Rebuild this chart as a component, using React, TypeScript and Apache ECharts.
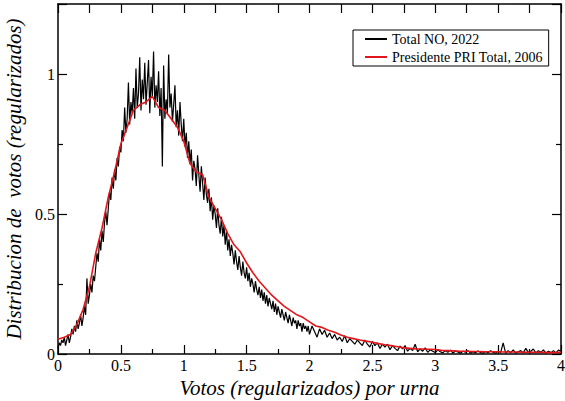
import React, { useEffect, useRef } from "react";
import * as echarts from "echarts";

// black series: 0.00 .. 1.99 sampled every 0.01
const blackStepA = 0.01;
const blackValuesA = [
  0.02, 0.04, 0.03, 0.05, 0.04, 0.06, 0.03, 0.05, 0.07, 0.04,
  0.06, 0.09, 0.07, 0.10, 0.08, 0.12, 0.09, 0.11, 0.14, 0.10,
  0.13, 0.17, 0.14, 0.27, 0.18, 0.21, 0.25, 0.22, 0.28, 0.26,
  0.31, 0.36, 0.33, 0.41, 0.37, 0.44, 0.40, 0.47, 0.51, 0.46,
  0.52, 0.58, 0.55, 0.63, 0.59, 0.66, 0.62, 0.70, 0.67, 0.74,
  0.72, 0.80, 0.76, 0.88, 0.79, 0.84, 0.97, 0.82, 0.90, 0.86,
  0.95, 0.84, 1.02, 0.88, 0.93, 1.06, 0.87, 0.98, 0.91, 1.04,
  0.89, 0.97, 1.05, 0.86, 0.99, 0.92, 1.08, 0.88, 0.96, 0.90,
  1.01, 0.85, 0.95, 0.67, 1.03, 0.84, 0.91, 0.86, 1.07, 0.88,
  0.93, 0.83, 0.89, 0.96, 0.81, 0.87, 0.78, 0.90, 0.82, 0.76,
  0.84, 0.74, 0.79, 0.70, 0.76, 0.68, 0.73, 0.62, 0.69, 0.66,
  0.60, 0.71, 0.64, 0.58, 0.67, 0.61, 0.55, 0.63, 0.57, 0.54,
  0.59, 0.51, 0.56, 0.48, 0.53, 0.50, 0.45, 0.52, 0.46, 0.43,
  0.49, 0.42, 0.46, 0.39, 0.44, 0.37, 0.41, 0.35, 0.39, 0.36,
  0.32, 0.37, 0.33, 0.30, 0.35, 0.31, 0.28, 0.33, 0.29, 0.27,
  0.31, 0.26, 0.29, 0.24, 0.27, 0.25, 0.22, 0.26, 0.23, 0.21,
  0.24, 0.20, 0.23, 0.19, 0.22, 0.18, 0.21, 0.17, 0.20, 0.18,
  0.16, 0.19, 0.15, 0.18, 0.14, 0.17, 0.15, 0.13, 0.16, 0.14,
  0.12, 0.15, 0.13, 0.11, 0.14, 0.12, 0.10, 0.13, 0.11, 0.12,
  0.09, 0.12, 0.10, 0.11, 0.08, 0.11, 0.09, 0.10, 0.08, 0.10,
];

// black series: 2.00 .. 4.00 sampled every 0.02
const blackStartB = 2.0;
const blackStepB = 0.02;
const blackValuesB = [
  0.07, 0.10, 0.08, 0.06, 0.09, 0.07, 0.085, 0.06, 0.075, 0.055,
  0.07, 0.05, 0.06, 0.045, 0.065, 0.04, 0.055, 0.045, 0.035, 0.05,
  0.04, 0.03, 0.05, 0.035, 0.025, 0.045, 0.03, 0.04, 0.02, 0.035,
  0.025, 0.035, 0.015, 0.03, 0.02, 0.012, 0.028, 0.018, 0.03, 0.01,
  0.02, 0.012, 0.035, 0.008, 0.018, 0.01, 0.022, 0.006, 0.015, 0.01,
  0.005, 0.015, 0.008, 0.004, 0.012, 0.006, 0.014, 0.004, 0.01, 0.007,
  0.003, 0.01, 0.006, 0.012, 0.003, 0.008, 0.004, 0.011, 0.005, 0.003,
  0.009, 0.004, 0.012, 0.006, 0.003, 0.01, 0.005, 0.04, 0.003, 0.012,
  0.005, 0.015, 0.003, 0.008, 0.012, 0.004, 0.02, 0.006, 0.01, 0.018,
  0.004, 0.012, 0.006, 0.015, 0.003, 0.01, 0.005, 0.012, 0.004, 0.014,
  0.01,
];

// red series: 0.00 .. 4.00 sampled every 0.05
const redStep = 0.05;
const redValues = [
  0.053, 0.06, 0.07, 0.105, 0.16, 0.24, 0.36, 0.45, 0.56, 0.65,
  0.75, 0.81, 0.87, 0.89, 0.90, 0.92, 0.88, 0.87, 0.84, 0.81,
  0.76, 0.68, 0.65, 0.64, 0.56, 0.52, 0.48, 0.43, 0.39, 0.365,
  0.325, 0.29, 0.26, 0.235, 0.21, 0.19, 0.17, 0.155, 0.14, 0.13,
  0.115, 0.10, 0.095, 0.085, 0.078, 0.068, 0.06, 0.055, 0.05, 0.046,
  0.042, 0.037, 0.033, 0.03, 0.026, 0.022, 0.02, 0.018, 0.018, 0.017,
  0.016, 0.013, 0.012, 0.011, 0.01, 0.01, 0.009, 0.009, 0.008, 0.008,
  0.008, 0.007, 0.007, 0.007, 0.006, 0.006, 0.006, 0.006, 0.005, 0.005,
  0.006,
];

const seriesNames = ["Total NO, 2022", "Presidente PRI Total, 2006"];
const yTickLabels = [0, 0.5, 1];
const xAxisTitle = "Votos (regularizados) por urna";
const yAxisTitle = "Distribucion de  votos (regularizados)";

const serif = "Liberation Serif";

export default function App() {
  const ref = useRef<HTMLDivElement>(null);
  useEffect(() => {
    document.body.style.margin = "0";
    if (!ref.current) return;
    const chart = echarts.init(ref.current, null, { renderer: "svg" });
    const blackData = [
      ...blackValuesA.map((v, i) => [+(i * blackStepA).toFixed(3), v]),
      ...blackValuesB.map((v, i) => [+(blackStartB + i * blackStepB).toFixed(3), v]),
    ];
    const redData = redValues.map((v, i) => [+(i * redStep).toFixed(3), v]);
    const axisLine = { show: true, onZero: false, lineStyle: { color: "#000", width: 1.5 } };
    const tick = { show: true, inside: true, length: 9, lineStyle: { color: "#000", width: 1.2 } };
    const minorTick = { show: true, splitNumber: 2, length: 5, lineStyle: { color: "#000", width: 1.2 } };
    const labelStyle = { color: "#000", fontFamily: serif, fontSize: 16 };
    const nameStyle = { fontFamily: serif, fontSize: 21, fontStyle: "italic", color: "#000" };
    chart.setOption({
      animation: false,
      backgroundColor: "#fff",
      textStyle: { fontFamily: serif },
      grid: { left: 58, right: 4, top: 4, bottom: 47, containLabel: false, outerBoundsMode: "none" },
      legend: {
        data: seriesNames,
        orient: "vertical",
        left: 353,
        top: 30,
        padding: [2, 6, 2, 12],
        itemGap: 4,
        icon: "rect",
        itemWidth: 22,
        itemHeight: 2,
        borderColor: "#000",
        borderWidth: 1,
        textStyle: { fontFamily: serif, fontSize: 14, color: "#000" },
      },
      xAxis: [
        {
          type: "value",
          min: 0,
          max: 4,
          interval: 0.5,
          position: "bottom",
          name: xAxisTitle,
          nameLocation: "middle",
          nameGap: 17,
          nameTextStyle: nameStyle,
          axisLine,
          axisTick: tick,
          minorTick: { ...minorTick },
          splitLine: { show: false },
          axisLabel: { ...labelStyle, margin: 3, showMaxLabel: true, showMinLabel: true },
        },
        {
          type: "value",
          min: 0,
          max: 4,
          interval: 0.5,
          position: "top",
          axisLine,
          axisTick: tick,
          minorTick: { ...minorTick, length: 9 },
          splitLine: { show: false },
          axisLabel: { show: false },
        },
      ],
      yAxis: [
        {
          type: "value",
          min: 0,
          max: 1.25,
          interval: 0.5,
          position: "left",
          name: yAxisTitle,
          nameLocation: "middle",
          nameGap: 25,
          nameTextStyle: { ...nameStyle, whiteSpace: "pre" },
          axisLine,
          axisTick: tick,
          minorTick: { ...minorTick },
          splitLine: { show: false },
          axisLabel: {
            ...labelStyle,
            margin: 3,
            formatter: (v: number) => (yTickLabels.some((t) => Math.abs(t - v) < 1e-9) ? String(v) : ""),
          },
        },
        {
          type: "value",
          min: 0,
          max: 1.25,
          interval: 0.5,
          position: "right",
          axisLine,
          axisTick: tick,
          minorTick: { ...minorTick },
          splitLine: { show: false },
          axisLabel: { show: false },
        },
      ],
      series: [
        {
          name: seriesNames[0],
          type: "line",
          data: blackData,
          symbol: "none",
          lineStyle: { color: "#000", width: 1.2 },
          itemStyle: { color: "#000" },
          z: 2,
        },
        {
          name: seriesNames[1],
          type: "line",
          data: redData,
          symbol: "none",
          lineStyle: { color: "#e3161b", width: 1.6 },
          itemStyle: { color: "#e3161b" },
          z: 3,
        },
      ],
    });
    return () => chart.dispose();
  }, []);
  return <div ref={ref} style={{ width: 565, height: 401 }} />;
}
